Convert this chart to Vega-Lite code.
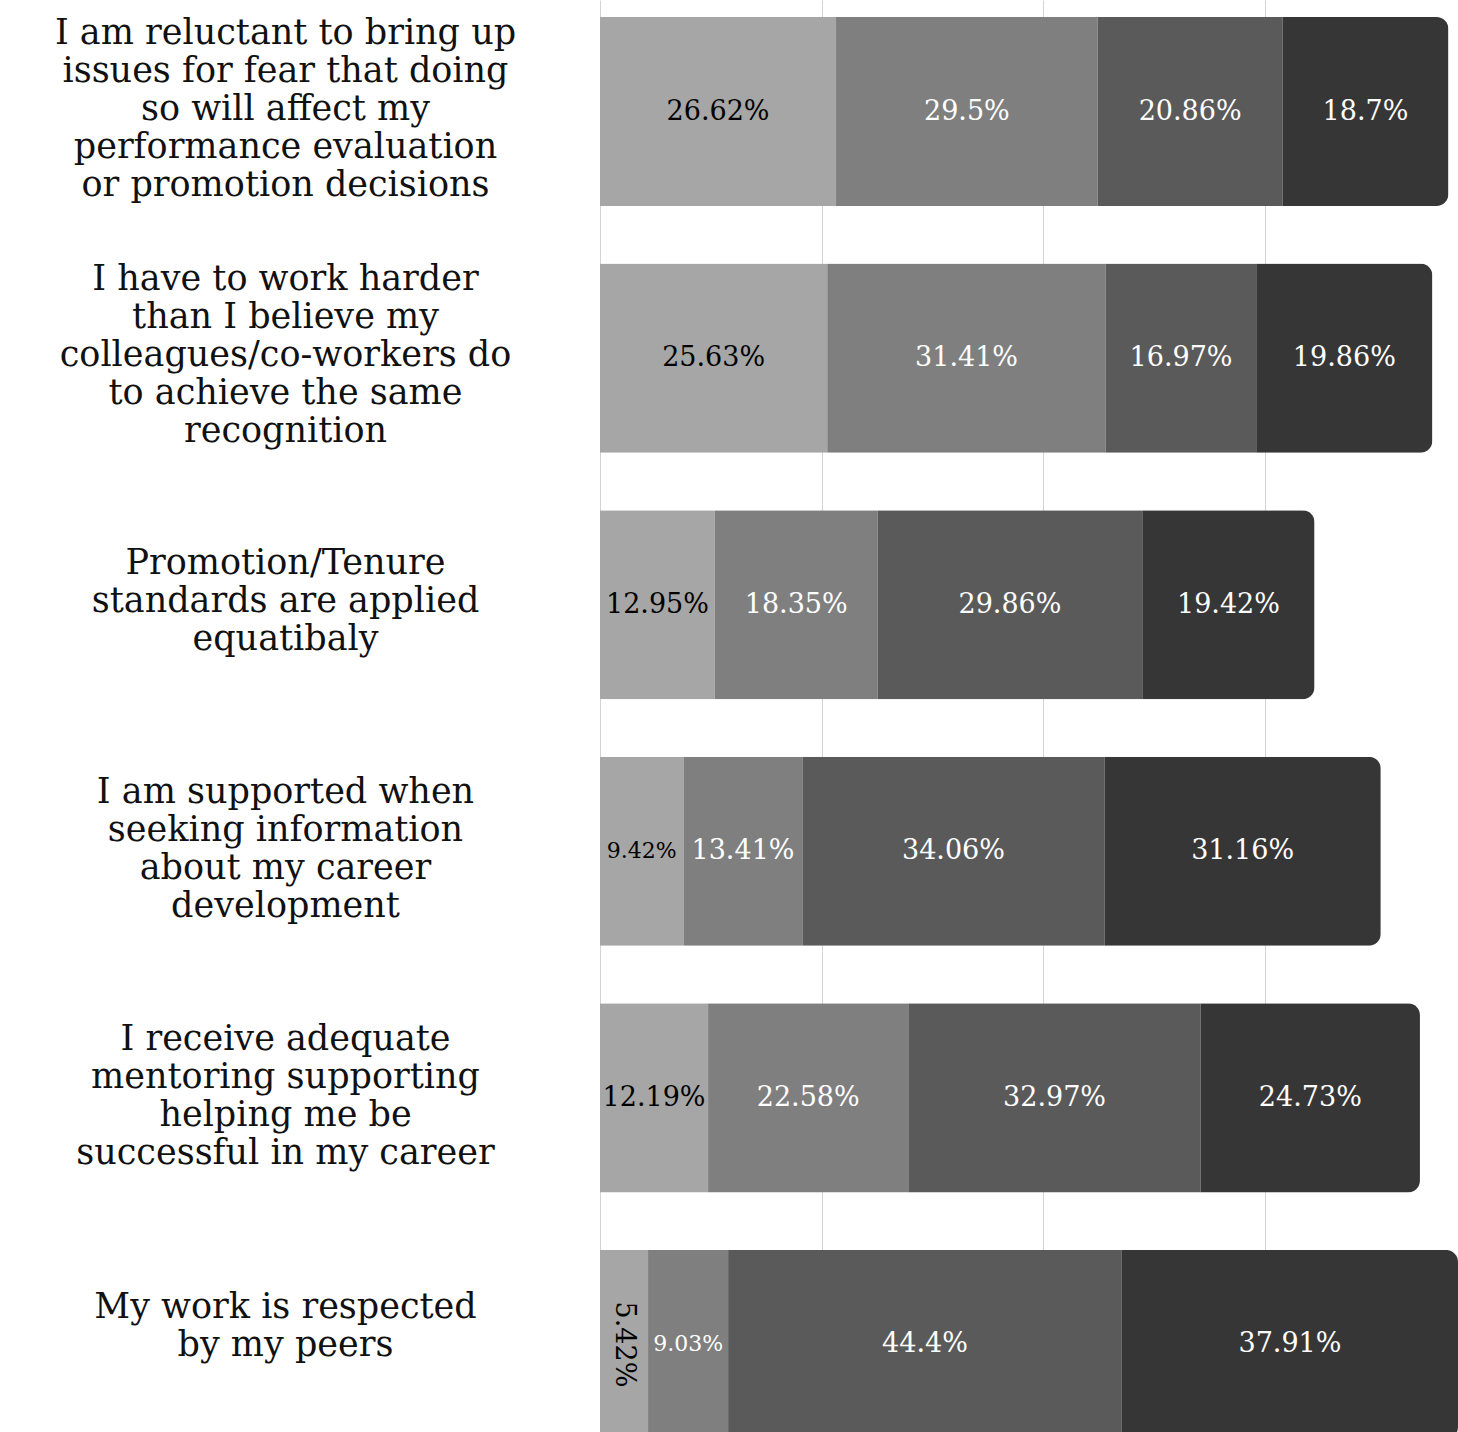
{
  "$schema": "https://vega.github.io/schema/vega-lite/v6.json",
  "width": 858,
  "height": 1456,
  "autosize": "none",
  "padding": {"left": 600, "top": 0, "right": 0, "bottom": 0},
  "background": "white",
  "config": {"view": {"stroke": null}},
  "data": {
    "values": [
      {"statement": "I am reluctant to bring up|issues for fear that doing|so will affect my|performance evaluation|or promotion decisions", "response": "Strongly disagree", "level": 1, "value": 26.62},
      {"statement": "I am reluctant to bring up|issues for fear that doing|so will affect my|performance evaluation|or promotion decisions", "response": "Disagree", "level": 2, "value": 29.5},
      {"statement": "I am reluctant to bring up|issues for fear that doing|so will affect my|performance evaluation|or promotion decisions", "response": "Agree", "level": 3, "value": 20.86},
      {"statement": "I am reluctant to bring up|issues for fear that doing|so will affect my|performance evaluation|or promotion decisions", "response": "Strongly agree", "level": 4, "value": 18.7},
      {"statement": "I have to work harder|than I believe my|colleagues/co-workers do|to achieve the same|recognition", "response": "Strongly disagree", "level": 1, "value": 25.63},
      {"statement": "I have to work harder|than I believe my|colleagues/co-workers do|to achieve the same|recognition", "response": "Disagree", "level": 2, "value": 31.41},
      {"statement": "I have to work harder|than I believe my|colleagues/co-workers do|to achieve the same|recognition", "response": "Agree", "level": 3, "value": 16.97},
      {"statement": "I have to work harder|than I believe my|colleagues/co-workers do|to achieve the same|recognition", "response": "Strongly agree", "level": 4, "value": 19.86},
      {"statement": "Promotion/Tenure|standards are applied|equatibaly", "response": "Strongly disagree", "level": 1, "value": 12.95},
      {"statement": "Promotion/Tenure|standards are applied|equatibaly", "response": "Disagree", "level": 2, "value": 18.35},
      {"statement": "Promotion/Tenure|standards are applied|equatibaly", "response": "Agree", "level": 3, "value": 29.86},
      {"statement": "Promotion/Tenure|standards are applied|equatibaly", "response": "Strongly agree", "level": 4, "value": 19.42},
      {"statement": "I am supported when|seeking information|about my career|development", "response": "Strongly disagree", "level": 1, "value": 9.42},
      {"statement": "I am supported when|seeking information|about my career|development", "response": "Disagree", "level": 2, "value": 13.41},
      {"statement": "I am supported when|seeking information|about my career|development", "response": "Agree", "level": 3, "value": 34.06},
      {"statement": "I am supported when|seeking information|about my career|development", "response": "Strongly agree", "level": 4, "value": 31.16},
      {"statement": "I receive adequate|mentoring supporting|helping me be|successful in my career", "response": "Strongly disagree", "level": 1, "value": 12.19},
      {"statement": "I receive adequate|mentoring supporting|helping me be|successful in my career", "response": "Disagree", "level": 2, "value": 22.58},
      {"statement": "I receive adequate|mentoring supporting|helping me be|successful in my career", "response": "Agree", "level": 3, "value": 32.97},
      {"statement": "I receive adequate|mentoring supporting|helping me be|successful in my career", "response": "Strongly agree", "level": 4, "value": 24.73},
      {"statement": "My work is respected|by my peers", "response": "Strongly disagree", "level": 1, "value": 5.42},
      {"statement": "My work is respected|by my peers", "response": "Disagree", "level": 2, "value": 9.03},
      {"statement": "My work is respected|by my peers", "response": "Agree", "level": 3, "value": 44.4},
      {"statement": "My work is respected|by my peers", "response": "Strongly agree", "level": 4, "value": 37.91}
    ]
  },
  "encoding": {
    "y": {
      "field": "statement",
      "type": "nominal",
      "sort": null,
      "scale": {"paddingInner": 0.2333, "paddingOuter": 0.069},
      "axis": {
        "title": null,
        "ticks": false,
        "domain": false,
        "grid": false,
        "labelAlign": "center",
        "labelBaseline": "middle",
        "labelPadding": 315,
        "labelFont": "DejaVu Serif",
        "labelFontSize": 35,
        "labelColor": "#111111",
        "labelLineHeight": 38,
        "labelLimit": 0,
        "labelOffset": {
          "condition": [
            {"test": "length(split(datum.label, '|')) == 5", "value": -79},
            {"test": "length(split(datum.label, '|')) == 4", "value": -59},
            {"test": "length(split(datum.label, '|')) == 3", "value": -42},
            {"test": "length(split(datum.label, '|')) == 2", "value": -37}
          ],
          "value": 0
        },
        "labelExpr": "split(datum.label, '|')"
      }
    }
  },
  "layer": [
    {
      "mark": {"type": "bar", "cornerRadiusEnd": 12},
      "encoding": {
        "x": {
          "field": "value",
          "type": "quantitative",
          "stack": "zero",
          "scale": {"nice": false, "zero": true},
          "axis": {
            "title": null,
            "values": [0, 25, 50, 75],
            "labels": false,
            "ticks": false,
            "domain": false,
            "grid": true,
            "gridColor": "#d3d3d3",
            "gridWidth": 1
          }
        },
        "color": {
          "field": "response",
          "type": "nominal",
          "sort": ["Strongly disagree", "Disagree", "Agree", "Strongly agree"],
          "scale": {
            "domain": ["Strongly disagree", "Disagree", "Agree", "Strongly agree"],
            "range": ["#a6a6a6", "#7f7f7f", "#5a5a5a", "#363636"]
          },
          "legend": null
        },
        "order": {"field": "level", "type": "quantitative"}
      }
    },
    {
      "mark": {
        "type": "text",
        "font": "DejaVu Serif",
        "align": "center",
        "baseline": "middle",
        "text": {"expr": "datum.value + '%'"}
      },
      "encoding": {
        "x": {"field": "value", "type": "quantitative", "stack": "zero", "bandPosition": 0.5},
        "detail": {"field": "level", "type": "nominal"},
        "order": {"field": "level", "type": "quantitative"},
        "color": {
          "condition": {"test": "datum.level == 1", "value": "#000000"},
          "value": "#ffffff"
        },
        "size": {
          "condition": {"test": "datum.value < 10 && datum.value > 6", "value": 22},
          "value": 27
        },
        "angle": {
          "condition": {"test": "datum.value < 6", "value": 90},
          "value": 0
        }
      }
    }
  ]
}
